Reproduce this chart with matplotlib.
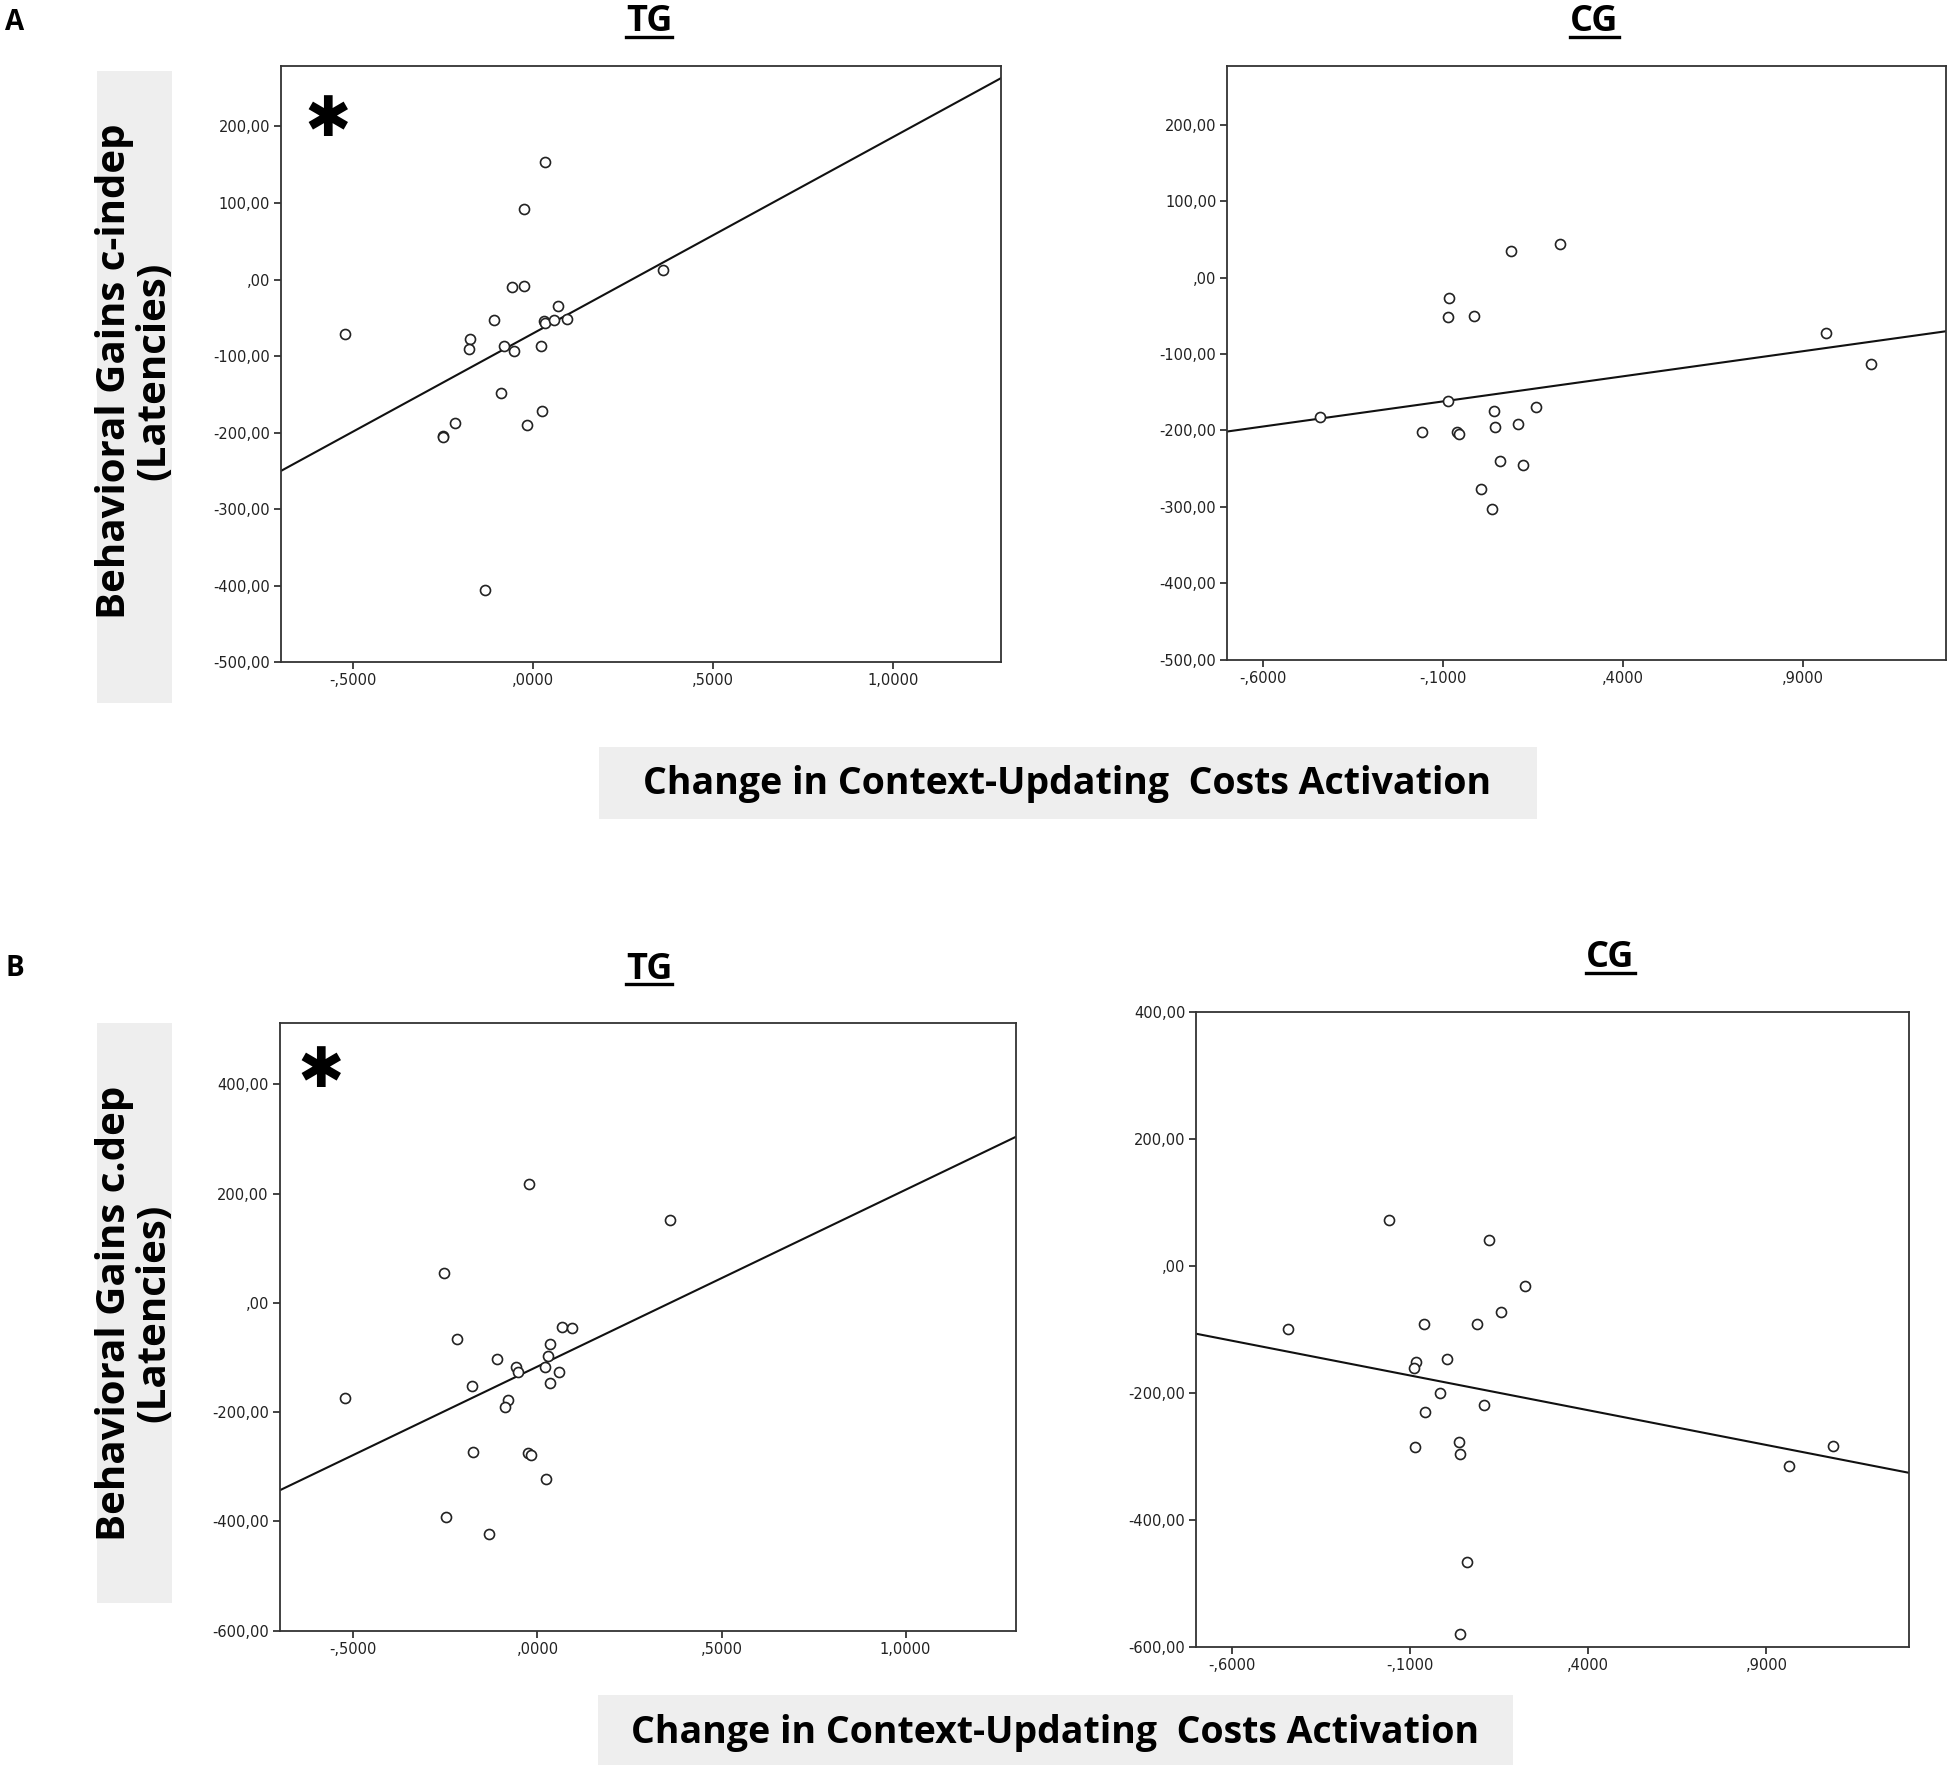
import matplotlib
matplotlib.use("Agg")
import matplotlib.pyplot as plt
from matplotlib.lines import Line2D
from matplotlib.patches import Rectangle
from matplotlib.ticker import FixedLocator, FuncFormatter

# ---- data ----
# A: Behavioral Gains c-indep, training group
a_tg_x = [-0.523, 0.033, -0.024, 0.361, -0.059, -0.024, 0.068, -0.109, 0.029, 0.034,
          0.059, 0.095, -0.175, -0.179, -0.080, -0.053, 0.021, -0.088, 0.024, -0.018,
          -0.216, -0.250, -0.251, -0.133]
a_tg_y = [-71, 153, 92, 13, -10, -8, -35, -53, -54, -57,
          -53, -51, -78, -91, -87, -93, -87, -148, -172, -190,
          -188, -205, -206, -406]
a_tg_fit = (-70.4, 256.6)  # intercept, slope

# A: control group
a_cg_x = [-0.443, 0.088, 0.224, -0.083, -0.087, -0.015, 0.965, 1.090, -0.087, 0.043,
          0.158, -0.160, -0.060, -0.056, 0.044, 0.109, 0.059, 0.121, 0.005, 0.037]
a_cg_y = [-182, 35, 44, -27, -52, -50, -73, -113, -162, -174,
          -169, -202, -202, -205, -195, -192, -240, -245, -277, -303]
a_cg_fit = (-155.4, 65.6)

# B: Behavioral Gains c.dep, training group
b_tg_x = [-0.524, -0.024, 0.360, -0.253, -0.218, 0.067, 0.094, 0.033, -0.111, 0.029,
          -0.059, -0.053, 0.021, 0.059, 0.033, -0.179, -0.080, -0.088, -0.174, -0.025,
          -0.017, 0.022, -0.248, -0.133]
b_tg_y = [-175, 217, 152, 54, -66, -44, -46, -75, -102, -98,
          -118, -127, -117, -126, -147, -153, -178, -191, -273, -275,
          -279, -322, -392, -423]
b_tg_fit = (-116.6, 323.6)

# B: control group
b_cg_x = [-0.443, -0.159, 0.120, 0.223, 0.156, -0.061, 0.087, 0.003, -0.083, -0.088,
          -0.015, 0.107, -0.057, 0.036, -0.087, 0.041, 1.088, 0.963, 0.060, 0.041]
b_cg_y = [-100, 73, 41, -32, -72, -91, -91, -146, -151, -161,
          -201, -219, -230, -278, -286, -297, -283, -316, -466, -580]
b_cg_fit = (-183.6, -109.5)

tg_xticks = [-0.5, 0.0, 0.5, 1.0]
cg_xticks = [-0.6, -0.1, 0.4, 0.9]
a_yticks = [200, 100, 0, -100, -200, -300, -400, -500]
b_yticks = [400, 200, 0, -200, -400, -600]

FW, FH = 1568.0, 1422.0  # reference layout units


def px_rect(x0, y0, x1, y1):
    return [x0 / FW, 1 - y1 / FH, (x1 - x0) / FW, (y1 - y0) / FH]


def fmt_x(v, _):
    s = f"{v:.4f}".replace(".", ",")
    return s.replace("0,", ",", 1) if s.lstrip("-").startswith("0,") else s


def fmt_y(v, _):
    s = f"{v:.2f}".replace(".", ",")
    return ",00" if abs(v) < 1e-9 else s


def scatter_panel(ax, xs, ys, fit, xticks, yticks, ylim, star=None):
    ax.plot(xs, ys, linestyle="none", marker="o", markersize=7.2,
            markerfacecolor="white", markeredgecolor="#222222", markeredgewidth=1.2, zorder=3)
    ax.axline((0, fit[0]), slope=fit[1], color="#111111", lw=1.5, zorder=2)
    ax.set_xlim(-0.70, 1.30)
    ax.set_ylim(*ylim)
    ax.xaxis.set_major_locator(FixedLocator(xticks))
    ax.yaxis.set_major_locator(FixedLocator(yticks))
    ax.xaxis.set_major_formatter(FuncFormatter(fmt_x))
    ax.yaxis.set_major_formatter(FuncFormatter(fmt_y))
    ax.tick_params(direction="out", length=5, width=1.2, labelsize=10.5,
                   colors="#222222", pad=3)
    for lab in ax.get_xticklabels() + ax.get_yticklabels():
        lab.set_fontfamily("Liberation Sans Narrow")
    for sp in ax.spines.values():
        sp.set_linewidth(1.3)
        sp.set_color("#333333")
    if star is not None:
        ax.text(star[0], star[1], "\u2731", transform=ax.transAxes, fontsize=40,
                fontfamily="DejaVu Sans", ha="center", va="center", color="black")


fig = plt.figure(figsize=(19.5, 17.7), dpi=100)

grey = "#EEEEEE"
for r in [px_rect(78, 57, 138, 565), px_rect(482, 600, 1236, 658),
          px_rect(78, 822, 138, 1288), px_rect(481, 1362, 1217, 1418)]:
    fig.add_artist(Rectangle((r[0], r[1]), r[2], r[3], transform=fig.transFigure,
                             facecolor=grey, edgecolor="none", zorder=0))

ax1 = fig.add_axes(px_rect(226, 53, 805, 532))
scatter_panel(ax1, a_tg_x, a_tg_y, a_tg_fit, tg_xticks, a_yticks, (-500, 279), star=(0.064, 0.908))
ax2 = fig.add_axes(px_rect(987, 53, 1565, 530))
scatter_panel(ax2, a_cg_x, a_cg_y, a_cg_fit, cg_xticks, a_yticks, (-500, 277))
ax3 = fig.add_axes(px_rect(225, 822, 817, 1310))
scatter_panel(ax3, b_tg_x, b_tg_y, b_tg_fit, tg_xticks, b_yticks, (-600, 512), star=(0.056, 0.92))
ax4 = fig.add_axes(px_rect(962, 813, 1535, 1323))
scatter_panel(ax4, b_cg_x, b_cg_y, b_cg_fit, cg_xticks, b_yticks, (-600, 400))

label_font = "Open Sans"
fig.text(108 / FW, 1 - 298 / FH, "Behavioral Gains c-indep\n(Latencies)", rotation=90,
         ha="center", va="center", multialignment="center", fontsize=29,
         fontweight="bold", fontfamily=label_font, linespacing=1.02)
fig.text(108 / FW, 1 - 1055 / FH, "Behavioral Gains c.dep\n(Latencies)", rotation=90,
         ha="center", va="center", multialignment="center", fontsize=29,
         fontweight="bold", fontfamily=label_font, linespacing=1.02)
fig.text(858 / FW, 1 - 630 / FH, "Change in Context-Updating  Costs Activation",
         ha="center", va="center", fontsize=27, fontweight="bold", fontfamily=label_font)
fig.text(848 / FW, 1 - 1392 / FH, "Change in Context-Updating  Costs Activation",
         ha="center", va="center", fontsize=27, fontweight="bold", fontfamily=label_font)

fig.text(12 / FW, 1 - 18 / FH, "A", ha="center", va="center", fontsize=20,
         fontweight="bold", fontfamily=label_font)
fig.text(12 / FW, 1 - 778 / FH, "B", ha="center", va="center", fontsize=20,
         fontweight="bold", fontfamily=label_font)

titles = [("TG", 522, 18), ("CG", 1282, 18), ("TG", 522, 779), ("CG", 1295, 770)]
renderer = fig.canvas.get_renderer()
for txt, tx, ty in titles:
    t = fig.text(tx / FW, 1 - ty / FH, txt, ha="center", va="center", fontsize=26,
                 fontweight="bold", fontfamily=label_font)
    bb = t.get_window_extent(renderer).transformed(fig.transFigure.inverted())
    uy = bb.y0 + 0.1 * bb.height
    fig.add_artist(Line2D([bb.x0, bb.x1], [uy, uy], transform=fig.transFigure,
                          color="black", lw=2.4))

fig.savefig("out.png", dpi=100)
